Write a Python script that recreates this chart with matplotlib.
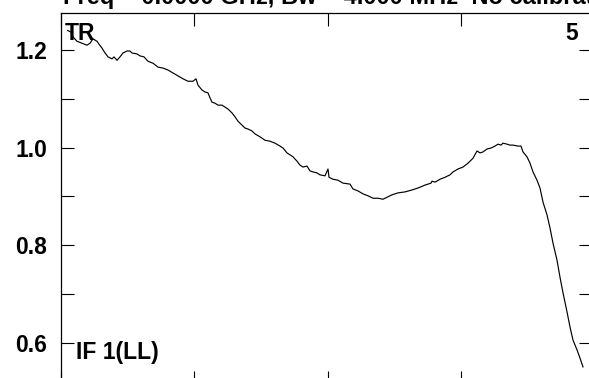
import matplotlib
matplotlib.use("Agg")
import matplotlib.pyplot as plt
from matplotlib.ticker import MultipleLocator, FixedLocator, NullFormatter

# Total-power bandpass spectrum, IF 1 (LL), antenna 5
channel = [5.0, 7.5, 9.0, 12.0, 15.75, 19.5, 21.75, 24.0, 27.0, 28.5, 30.75, 33.0, 35.25,
           38.25, 39.75, 42.0, 44.25, 46.5, 49.5, 51.75, 53.25, 57.0, 59.25, 62.25, 65.25,
           69.0, 72.75, 76.5, 80.25, 84.0, 87.75, 91.5, 95.25, 99.0, 101.25, 102.75, 105.75,
           108.0, 110.25, 111.75, 113.25, 115.5, 117.75, 120.75, 123.0, 125.25, 128.25,
           130.5, 132.75, 135.75, 138.0, 140.25, 143.25, 145.5, 149.25, 153.0, 156.75,
           160.5, 164.25, 166.5, 169.5, 171.75, 174.0, 177.0, 179.25, 181.5, 184.5, 186.75,
           189.0, 192.0, 194.25, 198.0, 200.25, 201.0, 204.0, 207.75, 211.5, 216.75, 219.0,
           222.75, 226.5, 230.25, 234.0, 237.75, 241.5, 244.5, 248.25, 252.75, 258.0,
           263.25, 267.75, 273.0, 277.5, 278.25, 280.5, 284.25, 288.0, 291.75, 294.0,
           297.75, 301.5, 305.25, 309.0, 312.0, 314.25, 316.5, 319.5, 322.5, 325.5, 327.75,
           330.0, 331.5, 334.5, 336.75, 339.0, 342.75, 345.0, 346.5, 349.5, 351.75, 354.0,
           357.0, 359.25, 361.5, 364.5, 366.75, 369.0, 372.0, 374.25, 376.5, 379.5, 381.75,
           384.0, 387.0, 389.25, 391.5]
amplitude = [1.240, 1.237, 1.227, 1.218, 1.214, 1.210, 1.214, 1.223, 1.218, 1.212, 1.204,
             1.194, 1.186, 1.182, 1.186, 1.179, 1.186, 1.194, 1.198, 1.198, 1.194, 1.192,
             1.188, 1.186, 1.177, 1.173, 1.165, 1.163, 1.159, 1.153, 1.147, 1.141, 1.136,
             1.136, 1.141, 1.128, 1.118, 1.114, 1.112, 1.102, 1.093, 1.091, 1.087, 1.087,
             1.083, 1.079, 1.071, 1.063, 1.054, 1.046, 1.040, 1.038, 1.034, 1.028, 1.022,
             1.015, 1.013, 1.009, 1.003, 0.999, 0.989, 0.985, 0.981, 0.972, 0.964, 0.960,
             0.962, 0.952, 0.950, 0.948, 0.944, 0.942, 0.956, 0.939, 0.935, 0.933, 0.927,
             0.925, 0.915, 0.911, 0.905, 0.901, 0.896, 0.896, 0.894, 0.898, 0.903, 0.907,
             0.909, 0.913, 0.917, 0.923, 0.927, 0.931, 0.929, 0.935, 0.939, 0.944, 0.950,
             0.956, 0.960, 0.968, 0.978, 0.993, 0.989, 0.991, 0.997, 0.999, 1.003, 1.007,
             1.005, 1.009, 1.007, 1.005, 1.005, 1.003, 1.003, 0.991, 0.981, 0.968, 0.950,
             0.933, 0.917, 0.888, 0.862, 0.835, 0.804, 0.769, 0.734, 0.702, 0.663, 0.632,
             0.605, 0.585, 0.568, 0.550]

x_ticks = [0, 100, 200, 300, 400]
y_ticks = [0.6, 0.8, 1.0, 1.2]
y_tick_labels = ["0.6", "0.8", "1.0", "1.2"]

title = "Freq = 0.0000 GHz, Bw = 4.000 MHz  No calibration applied"
corner_left = "TR"
corner_right = "5"
if_label = "IF 1(LL)"

W, H = 589, 378
plt.rcParams["font.family"] = ["Liberation Sans", "DejaVu Sans"]
plt.rcParams["font.weight"] = "bold"

fig = plt.figure(figsize=(W / 100, H / 100), dpi=100)
fig.patch.set_facecolor("white")

# plot frame in pixel units (frame extends slightly past the canvas edges)
left_px, right_px, top_px, bottom_px = 61, 591, 13, 383
ax = fig.add_axes([left_px / W, 1 - bottom_px / H,
                   (right_px - left_px) / W, (bottom_px - top_px) / H])

ax.plot(channel, amplitude, color="black", lw=0.85)

ax.set_xlim(0, 397.5)
ax.set_ylim(0.517, 1.276)

ax.xaxis.set_major_locator(FixedLocator(x_ticks))
ax.xaxis.set_major_formatter(NullFormatter())
ax.yaxis.set_major_locator(FixedLocator(y_ticks))
ax.set_yticklabels(y_tick_labels)
ax.yaxis.set_minor_locator(MultipleLocator(0.1))

ax.tick_params(axis="both", which="both", direction="in", length=9, width=0.8,
               top=True, bottom=True, left=True, right=True, color="black")
ax.tick_params(axis="y", which="major", labelsize=16.5, pad=10)
for lbl in ax.get_yticklabels():
    lbl.set_fontweight("bold")

for sp in ax.spines.values():
    sp.set_linewidth(0.9)
    sp.set_color("black")


def px_text(x, y, s, size=16.5):
    fig.text(x / W, 1 - y / H, s, fontsize=size, fontweight="bold",
             va="baseline", ha="left")


# header line sits above the canvas, only its lower edge shows
px_text(63, 4, title, size=17)
px_text(65, 40, corner_left)
px_text(565, 40, corner_right)
px_text(76, 359, if_label)

fig.savefig("out.png", dpi=100)
